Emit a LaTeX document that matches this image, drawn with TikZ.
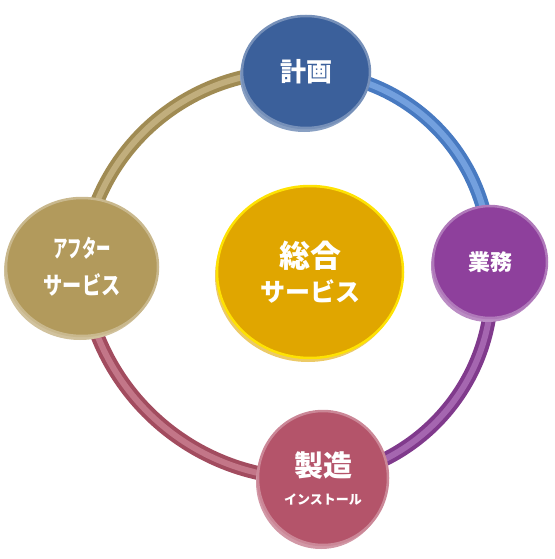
\documentclass[tikz,border=0pt]{standalone}
\usepackage{fontspec}
\newfontfamily\jp{Noto Sans CJK JP}
\usetikzlibrary{shapes.geometric, shadows, backgrounds}

\definecolor{planblue}{RGB}{59,96,155}
\definecolor{workpurple}{RGB}{142,64,156}
\definecolor{makepink}{RGB}{180,84,106}
\definecolor{aftertan}{RGB}{178,154,92}
\definecolor{centergold}{RGB}{224,166,0}
\definecolor{ringblue}{RGB}{80,136,214}

\begin{document}
\begin{tikzpicture}[x=1pt, y=-1pt,
  disc/.style={ellipse, draw=#1!70!white, line width=2.5pt, fill=#1, text=white,
    align=center, inner sep=0pt,
    general shadow={fill=#1!60!white, shadow xshift=-2pt, shadow yshift=-4pt}},
  tube/.style={draw=#1!90!black, line width=14pt},
  tubelight/.style={draw=#1!80!white, line width=6pt}]
\useasboundingbox (0,0) rectangle (554,559);
% plan
\node[disc=planblue, minimum width=128, minimum height=112,
  font=\jp\bfseries\fontsize{26}{30}\selectfont] (plan) at (306,72) {計画};
% work
\node[disc=workpurple, minimum width=114, minimum height=112,
  font=\jp\bfseries\fontsize{22}{25}\selectfont] (work) at (490,262) {業務};
% make
\node[disc=makepink, minimum width=130, minimum height=134,
  font=\jp\bfseries\fontsize{29}{32}\selectfont] (make) at (323,478)
  {製造\\[-4pt]{\fontsize{13}{15}\selectfont インストール}};
% after
\node[disc=aftertan, minimum width=152, minimum height=138,
  font=\jp\bfseries\fontsize{24}{37}\selectfont] (after) at (82,267)
  {\scalebox{0.6}[1]{アフター}\\\scalebox{0.8}[1]{サービス}};
% center
\node[disc=centergold, draw=yellow!85!orange, minimum width=186, minimum height=172,
  font=\jp\bfseries\fontsize{31}{36}\selectfont] (total) at (310,272)
  {総合\\[-2pt]{\fontsize{25}{30}\selectfont サービス}};
% ring
\begin{scope}[on background layer]
\draw[tube=aftertan] (after.center) to[bend left=45] (plan.center);
\draw[tube=ringblue] (plan.center) to[bend left=45] (work.center);
\draw[tube=workpurple] (work.center) to[bend left=45] (make.center);
\draw[tube=makepink] (make.center) to[bend left=45] (after.center);
\draw[tubelight=aftertan] (after.center) to[bend left=45] (plan.center);
\draw[tubelight=ringblue] (plan.center) to[bend left=45] (work.center);
\draw[tubelight=workpurple] (work.center) to[bend left=45] (make.center);
\draw[tubelight=makepink] (make.center) to[bend left=45] (after.center);
\end{scope}
\end{tikzpicture}
\end{document}
